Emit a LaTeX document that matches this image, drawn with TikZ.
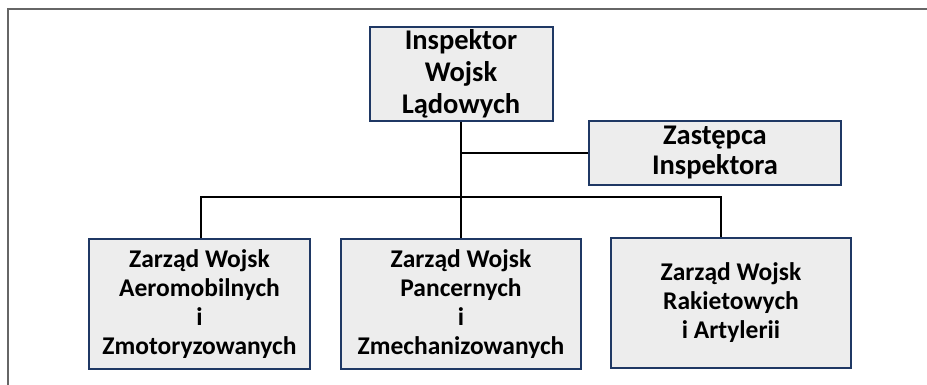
\documentclass[tikz,border=0pt]{standalone}
\usepackage{fontspec}
\setmainfont{Carlito}
\definecolor{boxfill}{HTML}{EDEDED}
\definecolor{boxline}{HTML}{1F3864}
\definecolor{frameline}{HTML}{666666}

\begin{document}
\begin{tikzpicture}[x=1pt,
y=1pt,
every node/.style={
rectangle,
align = center,
anchor=center,
inner sep=0pt,
},
box/.style={
draw=boxline,
line width=2pt,
fill=boxfill,
},
bigtext/.style={
font=\bfseries\fontsize{28.5}{32}\selectfont,
},
smalltext/.style={
font=\bfseries\fontsize{25.5}{29}\selectfont,
},
link/.style={
draw=black,
line width=1.8pt,
}]
\useasboundingbox (0,0) rectangle (927,385);

%page frame
\draw[frameline,line width=2pt] (927,375.5) -- (7.5,375.5) -- (7.5,0);

%inspector and deputy
\node[box,bigtext,minimum height=94,minimum width=183]
  (insp) at (461,311) {Inspektor\\Wojsk\\Lądowych};
\node[box,bigtext,font=\bfseries\fontsize{28.5}{30}\selectfont,minimum height=64,minimum width=252]
  (dep) at (715,232) {Zastępca\\Inspektora};

%boards
\node[box,smalltext,minimum height=130,minimum width=221]
  (aero) at (199.5,81) {Zarząd Wojsk\\Aeromobilnych\\i\\Zmotoryzowanych};
\node[box,smalltext,minimum height=130,minimum width=240]
  (panc) at (461,81) {Zarząd Wojsk\\Pancernych\\i\\Zmechanizowanych};
\node[box,smalltext,minimum height=130,minimum width=240]
  (rak) at (731,82) {Zarząd Wojsk\\Rakietowych\\i Artylerii};

\coordinate (bus) at (461,188);

%connectors
\draw[link] (insp.south) -- (panc.north);
\draw[link] (insp.south |- dep.west) -- (dep.west);
\draw[link] ([xshift=1.5pt]aero.north) |- (bus) -| ([xshift=-10pt]rak.north);
\end{tikzpicture}
\end{document}
